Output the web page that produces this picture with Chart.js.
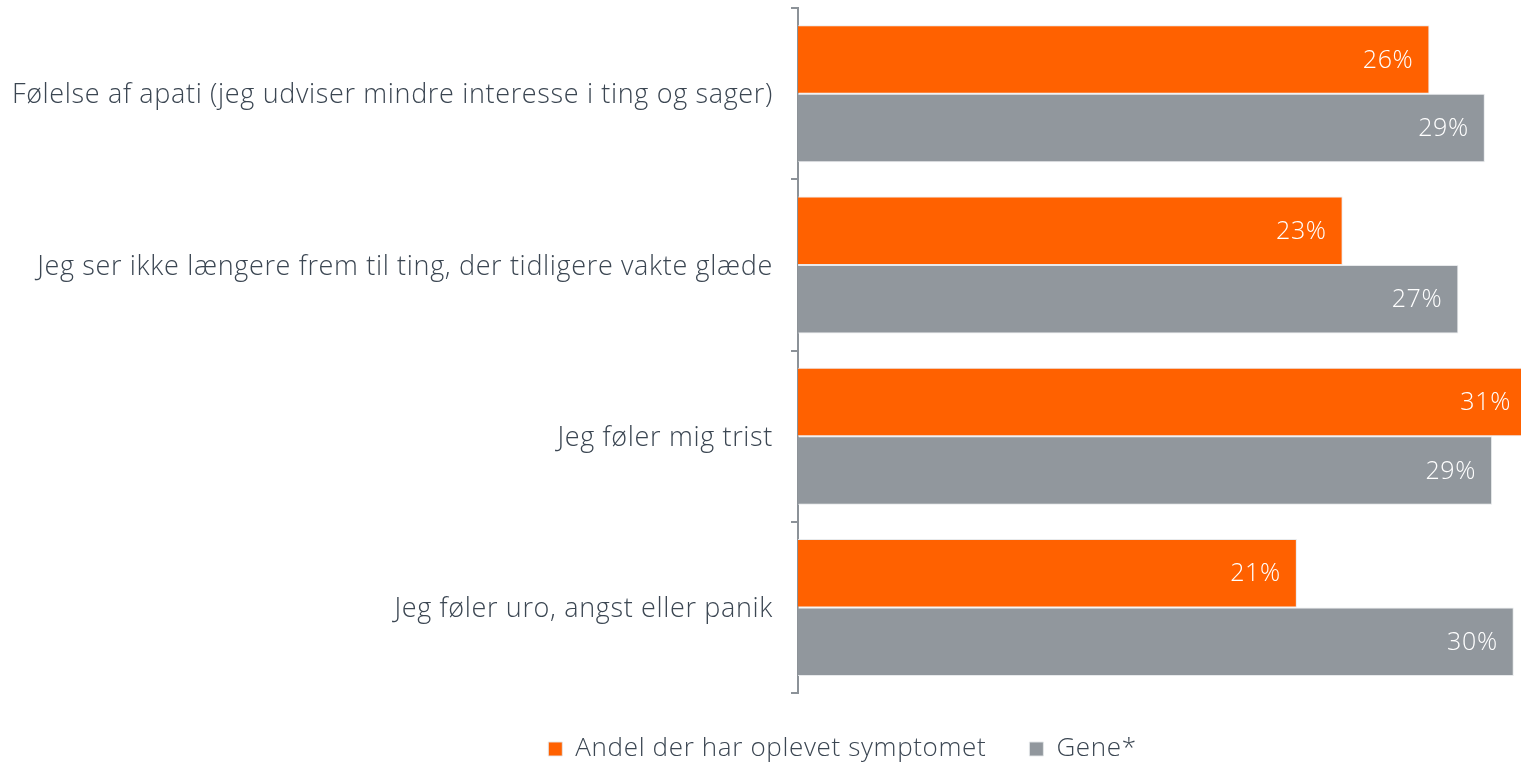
<!DOCTYPE html>
<html>
<head>
<meta charset="utf-8">
<script src="https://cdn.jsdelivr.net/npm/chart.js@4"></script>
<style>
  html, body { margin: 0; padding: 0; background: #ffffff; }
  #wrap { width: 1521px; height: 762px; }
</style>
</head>
<body>
<div id="wrap"><canvas id="c" width="1521" height="762"></canvas></div>
<script>
const categories = [
  "Følelse af apati (jeg udviser mindre interesse i ting og sager)",
  "Jeg ser ikke længere frem til ting, der tidligere vakte glæde",
  "Jeg føler mig trist",
  "Jeg føler uro, angst eller panik"
];
const seriesNames = ["Andel der har oplevet symptomet", "Gene*"];
const symptomValues = [26.2, 22.6, 30.8, 20.7];
const geneValues = [28.5, 27.4, 28.8, 29.7];
const axisMin = 0;
const axisMax = 30;

const FONT = "'Open Sans'";
const TEXT = "#3b4652";
const ORANGE = "#ff6100";
const GREY = "#91979d";
const SPACING = "0.65px";

const textSpacing = {
  id: "textSpacing",
  beforeUpdate(chart) { chart.ctx.letterSpacing = SPACING; },
  beforeDraw(chart) { chart.ctx.letterSpacing = SPACING; }
};

const valueLabels = {
  id: "valueLabels",
  afterDatasetsDraw(chart) {
    const ctx = chart.ctx;
    ctx.save();
    ctx.font = "300 25px " + FONT;
    ctx.fillStyle = "#ffffff";
    ctx.textAlign = "right";
    ctx.textBaseline = "middle";
    chart.data.datasets.forEach((ds, di) => {
      const meta = chart.getDatasetMeta(di);
      meta.data.forEach((bar, i) => {
        const txt = Math.round(ds.data[i]) + "%";
        const x = Math.min(bar.x - 16, chart.width - 10);
        ctx.fillText(txt, x, bar.y + 1);
      });
    });
    ctx.restore();
  }
};

const legendShift = {
  id: "legendShift",
  afterLayout(chart) {
    if (chart.legend) { chart.legend.left += 164; }
  }
};

new Chart(document.getElementById("c"), {
  type: "bar",
  data: {
    labels: categories,
    datasets: [
      { label: seriesNames[0], data: symptomValues, backgroundColor: ORANGE,
        borderColor: "rgba(230,232,234,0.9)", borderWidth: 1,
        categoryPercentage: 0.8, barPercentage: 1.0 },
      { label: seriesNames[1], data: geneValues, backgroundColor: GREY,
        borderColor: "rgba(230,232,234,0.9)", borderWidth: 1,
        categoryPercentage: 0.8, barPercentage: 1.0 }
    ]
  },
  options: {
    indexAxis: "y",
    responsive: false,
    animation: false,
    layout: { padding: { left: 0, right: 0, top: 8, bottom: 0 } },
    scales: {
      x: { display: false, min: axisMin, max: axisMax },
      y: {
        afterFit(s) { s.width = 798; s.paddingTop = 0; s.paddingBottom = 0; },
        border: { display: true, color: "#8c9298", width: 2 },
        grid: { display: true, drawOnChartArea: false, drawTicks: true, tickLength: 7,
                color: "#8c9298", lineWidth: 2, offset: true },
        ticks: { color: TEXT, padding: 18, labelOffset: 2, font: { family: FONT, size: 27, weight: 300 } }
      }
    },
    plugins: {
      legend: {
        position: "bottom",
        maxHeight: 69,
        labels: {
          boxWidth: 14, boxHeight: 14, padding: 43, color: TEXT,
          font: { family: FONT, size: 26, weight: 300 }
        }
      },
      tooltip: { enabled: false }
    }
  },
  plugins: [textSpacing, valueLabels, legendShift]
});
</script>
</body>
</html>
